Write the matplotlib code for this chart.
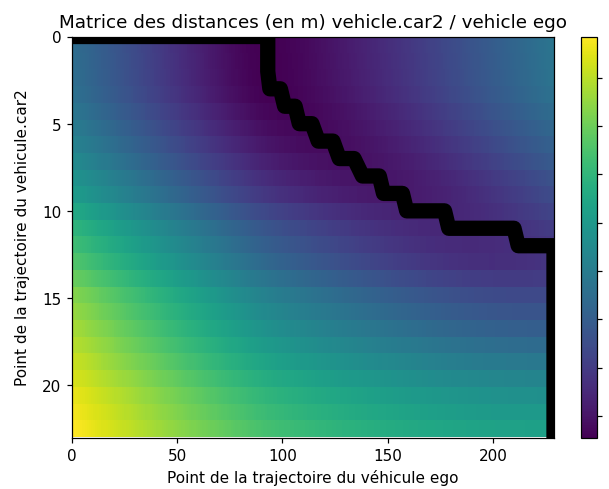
import numpy as np
import matplotlib
matplotlib.use("Agg")
import matplotlib.pyplot as plt

# Trajectoire du vehicule car2 (m), un point par ligne de la matrice
car2_x = [17.4, 17.5, 17.6, 18.0, 18.9, 19.8, 20.9, 22.2, 23.7, 25.0, 27.0, 29.0,
          30.5, 32.0, 33.4, 34.7, 35.3, 35.7, 35.9, 36.0, 36.0, 36.0, 35.8, 35.5]
car2_y = [2.8, 2.8, 2.8, 2.9, 3.2, 3.6, 4.0, 4.5, 5.0, 5.6, 6.8, 7.4,
          7.8, 8.3, 10.0, 11.9, 13.5, 15.2, 17.3, 19.4, 21.5, 23.5, 25.0, 26.4]

# Vehicule ego : longueur de pas (m) par bloc de 10 points, 230 points au total
ego_step = [0.19, 0.19, 0.19, 0.19, 0.19, 0.19, 0.19, 0.19, 0.19, 0.15,
            0.13, 0.13, 0.13, 0.13, 0.13, 0.13, 0.14, 0.14, 0.14, 0.14, 0.14, 0.14, 0.14]
n_ego = 230

# Chemin d'alignement : pour chaque ligne, colonne de debut et de fin
path_row = list(range(24))
path_start = [0, 93, 93, 94, 101, 108, 117, 127, 138, 148, 159, 179,
              212, 229, 229, 229, 229, 229, 229, 229, 229, 229, 229, 229]
path_end = [93, 93, 93, 99, 106, 114, 124, 134, 146, 157, 177, 210,
            229, 229, 229, 229, 229, 229, 229, 229, 229, 229, 229, 229]

cbar_ticks = [5, 10, 15, 20, 25, 30, 35, 40]

# positions ego le long de l'axe x
steps = np.repeat(ego_step, 10)
ego_x = np.concatenate([[0.0], np.cumsum(steps)])[:n_ego]
ego_y = np.zeros(n_ego)

cx = np.array(car2_x)[:, None]
cy = np.array(car2_y)[:, None]
dist = np.sqrt((cx - ego_x[None, :]) ** 2 + (cy - ego_y[None, :]) ** 2)

# sommets du chemin
px, py = [], []
for r, s, e in zip(path_row, path_start, path_end):
    px += [s, e]
    py += [r, r]

dpi = 110
fig = plt.figure(figsize=(609 / dpi, 490 / dpi), dpi=dpi)
ax = fig.add_axes([72 / 609, 51.5 / 490, 482 / 609, 401 / 490])
cax = fig.add_axes([581 / 609, 51.5 / 490, 16 / 609, 401 / 490])

img = ax.imshow(dist, cmap='viridis', aspect='auto', interpolation='nearest',
                extent=[0, n_ego - 1, len(car2_x) - 1, 0])
ax.plot(px, py, color='black', linewidth=10)
ax.set_xlim(0, n_ego - 1)
ax.set_ylim(len(car2_x) - 1, 0)
ax.set_xticks([0, 50, 100, 150, 200])
ax.set_yticks([0, 5, 10, 15, 20])

cbar = fig.colorbar(img, cax=cax, ticks=cbar_ticks)
cbar.ax.set_yticklabels([])

ax.set_title("Matrice des distances (en m) vehicle.car2 / vehicle ego")
ax.set_xlabel("Point de la trajectoire du véhicule ego")
ax.set_ylabel("Point de la trajectoire du vehicule.car2", labelpad=8)

fig.savefig("out.png", dpi=dpi)
